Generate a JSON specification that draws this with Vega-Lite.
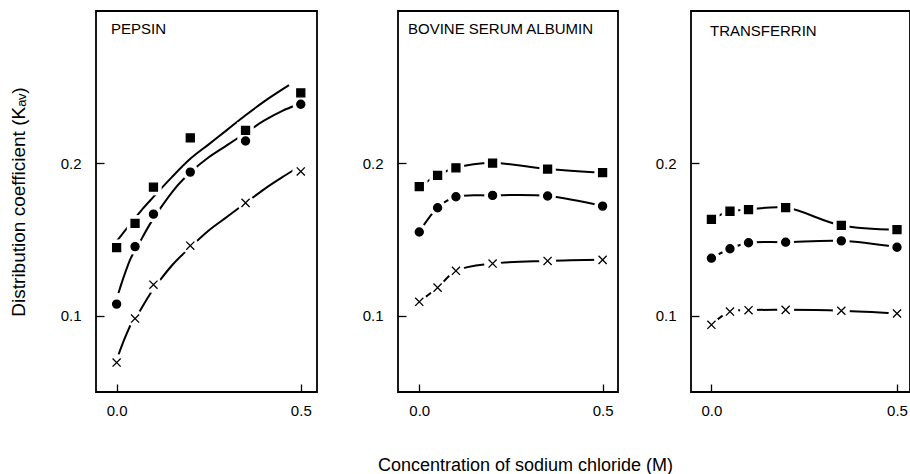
{
  "$schema": "https://vega.github.io/schema/vega-lite/v6.json",
  "background": "white",
  "padding": {"left": 8, "top": 10, "right": 0, "bottom": 0},
  "config": {
    "font": "Liberation Sans",
    "view": {"stroke": "black", "strokeWidth": 1.8},
    "axis": {
      "domain": false,
      "grid": false,
      "tickSize": -8,
      "tickColor": "black",
      "tickWidth": 1.3,
      "labelFont": "Liberation Sans",
      "labelFontSize": 15,
      "labelColor": "black",
      "titleFont": "Liberation Sans",
      "titleFontSize": 18,
      "titleFontWeight": "normal",
      "titleColor": "black"
    },
    "axisX": {"labelPadding": 19},
    "axisY": {"labelPadding": 23},
    "title": {
      "anchor": "start",
      "frame": "group",
      "font": "Liberation Sans",
      "fontSize": 15,
      "fontWeight": "normal",
      "color": "black",
      "baseline": "top",
      "offset": -26
    }
  },
  "datasets": {
    "points": [
      {"protein": "Pepsin", "symbol": "square", "nacl": 0, "kav": 0.1447},
      {"protein": "Pepsin", "symbol": "square", "nacl": 0.05, "kav": 0.1607},
      {"protein": "Pepsin", "symbol": "square", "nacl": 0.1, "kav": 0.1844},
      {"protein": "Pepsin", "symbol": "square", "nacl": 0.2, "kav": 0.2167},
      {"protein": "Pepsin", "symbol": "square", "nacl": 0.35, "kav": 0.2217},
      {"protein": "Pepsin", "symbol": "square", "nacl": 0.5, "kav": 0.2463},
      {"protein": "Pepsin", "symbol": "circle", "nacl": 0, "kav": 0.1077},
      {"protein": "Pepsin", "symbol": "circle", "nacl": 0.05, "kav": 0.1454},
      {"protein": "Pepsin", "symbol": "circle", "nacl": 0.1, "kav": 0.1667},
      {"protein": "Pepsin", "symbol": "circle", "nacl": 0.2, "kav": 0.1943},
      {"protein": "Pepsin", "symbol": "circle", "nacl": 0.35, "kav": 0.2147},
      {"protein": "Pepsin", "symbol": "circle", "nacl": 0.5, "kav": 0.2388},
      {"protein": "Pepsin", "symbol": "cross", "nacl": 0, "kav": 0.0693},
      {"protein": "Pepsin", "symbol": "cross", "nacl": 0.05, "kav": 0.0982},
      {"protein": "Pepsin", "symbol": "cross", "nacl": 0.1, "kav": 0.1204},
      {"protein": "Pepsin", "symbol": "cross", "nacl": 0.2, "kav": 0.146},
      {"protein": "Pepsin", "symbol": "cross", "nacl": 0.35, "kav": 0.1741},
      {"protein": "Pepsin", "symbol": "cross", "nacl": 0.5, "kav": 0.1947},
      {"protein": "BSA", "symbol": "square", "nacl": 0, "kav": 0.1847},
      {"protein": "BSA", "symbol": "square", "nacl": 0.05, "kav": 0.1921},
      {"protein": "BSA", "symbol": "square", "nacl": 0.1, "kav": 0.1971},
      {"protein": "BSA", "symbol": "square", "nacl": 0.2, "kav": 0.2002},
      {"protein": "BSA", "symbol": "square", "nacl": 0.35, "kav": 0.1963},
      {"protein": "BSA", "symbol": "square", "nacl": 0.5, "kav": 0.1939},
      {"protein": "BSA", "symbol": "circle", "nacl": 0, "kav": 0.155},
      {"protein": "BSA", "symbol": "circle", "nacl": 0.05, "kav": 0.1709},
      {"protein": "BSA", "symbol": "circle", "nacl": 0.1, "kav": 0.1781},
      {"protein": "BSA", "symbol": "circle", "nacl": 0.2, "kav": 0.179},
      {"protein": "BSA", "symbol": "circle", "nacl": 0.35, "kav": 0.1786},
      {"protein": "BSA", "symbol": "circle", "nacl": 0.5, "kav": 0.172},
      {"protein": "BSA", "symbol": "cross", "nacl": 0, "kav": 0.1092},
      {"protein": "BSA", "symbol": "cross", "nacl": 0.05, "kav": 0.1185},
      {"protein": "BSA", "symbol": "cross", "nacl": 0.1, "kav": 0.1295},
      {"protein": "BSA", "symbol": "cross", "nacl": 0.2, "kav": 0.1343},
      {"protein": "BSA", "symbol": "cross", "nacl": 0.35, "kav": 0.136},
      {"protein": "BSA", "symbol": "cross", "nacl": 0.5, "kav": 0.1367},
      {"protein": "Transferrin", "symbol": "square", "nacl": 0, "kav": 0.1633},
      {"protein": "Transferrin", "symbol": "square", "nacl": 0.05, "kav": 0.1686},
      {"protein": "Transferrin", "symbol": "square", "nacl": 0.1, "kav": 0.1697},
      {"protein": "Transferrin", "symbol": "square", "nacl": 0.2, "kav": 0.171},
      {"protein": "Transferrin", "symbol": "square", "nacl": 0.35, "kav": 0.1593},
      {"protein": "Transferrin", "symbol": "square", "nacl": 0.5, "kav": 0.1565},
      {"protein": "Transferrin", "symbol": "circle", "nacl": 0, "kav": 0.1378},
      {"protein": "Transferrin", "symbol": "circle", "nacl": 0.05, "kav": 0.144},
      {"protein": "Transferrin", "symbol": "circle", "nacl": 0.1, "kav": 0.1479},
      {"protein": "Transferrin", "symbol": "circle", "nacl": 0.2, "kav": 0.1483},
      {"protein": "Transferrin", "symbol": "circle", "nacl": 0.35, "kav": 0.1492},
      {"protein": "Transferrin", "symbol": "circle", "nacl": 0.5, "kav": 0.145},
      {"protein": "Transferrin", "symbol": "cross", "nacl": 0, "kav": 0.0941},
      {"protein": "Transferrin", "symbol": "cross", "nacl": 0.05, "kav": 0.1028},
      {"protein": "Transferrin", "symbol": "cross", "nacl": 0.1, "kav": 0.1037},
      {"protein": "Transferrin", "symbol": "cross", "nacl": 0.2, "kav": 0.1039},
      {"protein": "Transferrin", "symbol": "cross", "nacl": 0.35, "kav": 0.1033},
      {"protein": "Transferrin", "symbol": "cross", "nacl": 0.5, "kav": 0.1015}
    ],
    "pepsinFits": [
      {"symbol": "square", "nacl": 0.0, "kav": 0.149},
      {"symbol": "square", "nacl": 0.02, "kav": 0.155},
      {"symbol": "square", "nacl": 0.04, "kav": 0.161},
      {"symbol": "square", "nacl": 0.07, "kav": 0.17},
      {"symbol": "square", "nacl": 0.1, "kav": 0.178},
      {"symbol": "square", "nacl": 0.15, "kav": 0.191},
      {"symbol": "square", "nacl": 0.2, "kav": 0.203},
      {"symbol": "square", "nacl": 0.25, "kav": 0.2125},
      {"symbol": "square", "nacl": 0.3, "kav": 0.222},
      {"symbol": "square", "nacl": 0.35, "kav": 0.2316},
      {"symbol": "square", "nacl": 0.4, "kav": 0.2405},
      {"symbol": "square", "nacl": 0.468, "kav": 0.2513},
      {"symbol": "circle", "nacl": 0.005, "kav": 0.115},
      {"symbol": "circle", "nacl": 0.02, "kav": 0.126},
      {"symbol": "circle", "nacl": 0.037, "kav": 0.137},
      {"symbol": "circle", "nacl": 0.06, "kav": 0.147},
      {"symbol": "circle", "nacl": 0.09, "kav": 0.16},
      {"symbol": "circle", "nacl": 0.12, "kav": 0.171},
      {"symbol": "circle", "nacl": 0.16, "kav": 0.184},
      {"symbol": "circle", "nacl": 0.2, "kav": 0.194},
      {"symbol": "circle", "nacl": 0.25, "kav": 0.204},
      {"symbol": "circle", "nacl": 0.3, "kav": 0.212},
      {"symbol": "circle", "nacl": 0.35, "kav": 0.22},
      {"symbol": "circle", "nacl": 0.4, "kav": 0.228},
      {"symbol": "circle", "nacl": 0.45, "kav": 0.2345},
      {"symbol": "circle", "nacl": 0.49, "kav": 0.2385},
      {"symbol": "cross", "nacl": 0.003, "kav": 0.073},
      {"symbol": "cross", "nacl": 0.02, "kav": 0.084},
      {"symbol": "cross", "nacl": 0.04, "kav": 0.095},
      {"symbol": "cross", "nacl": 0.06, "kav": 0.102},
      {"symbol": "cross", "nacl": 0.09, "kav": 0.114},
      {"symbol": "cross", "nacl": 0.12, "kav": 0.124},
      {"symbol": "cross", "nacl": 0.15, "kav": 0.133},
      {"symbol": "cross", "nacl": 0.2, "kav": 0.145},
      {"symbol": "cross", "nacl": 0.25, "kav": 0.156},
      {"symbol": "cross", "nacl": 0.3, "kav": 0.165},
      {"symbol": "cross", "nacl": 0.35, "kav": 0.174},
      {"symbol": "cross", "nacl": 0.4, "kav": 0.183},
      {"symbol": "cross", "nacl": 0.45, "kav": 0.191},
      {"symbol": "cross", "nacl": 0.48, "kav": 0.1955}
    ]
  },
  "spacing": 43,
  "hconcat": [
    {
      "width": 221,
      "height": 381,
      "title": {"text": "PEPSIN", "dx": 15},
      "encoding": {
        "x": {"field": "nacl", "type": "quantitative",
              "scale": {"domain": [-0.056, 0.544], "nice": false, "zero": false},
              "axis": {"values": [0, 0.5], "format": ".1f", "title": null}},
        "y": {"field": "kav", "type": "quantitative",
              "scale": {"domain": [0.05, 0.3], "nice": false, "zero": false},
              "axis": {"values": [0.1, 0.2], "format": ".1f", "title": "Distribution coefficient (Kₐᵥ)", "titleFontSize": 19, "titlePadding": 32}}
      },
      "layer": [
        {
          "data": {"name": "pepsinFits"},
          "mark": {"type": "line", "stroke": "black", "strokeWidth": 2, "interpolate": "monotone"},
          "encoding": {"detail": {"field": "symbol"}}
        },
        {
          "data": {"name": "points"},
          "transform": [{"filter": "datum.protein === 'Pepsin'"}],
          "mark": {"type": "point", "fill": "white", "stroke": null, "opacity": 1},
          "encoding": {
            "shape": {"field": "symbol", "legend": null,
                      "scale": {"domain": ["square", "circle", "cross"], "range": ["square", "circle", "circle"]}},
            "size": {"field": "symbol", "legend": null,
                     "scale": {"domain": ["square", "circle", "cross"], "range": [270, 290, 150]}}
          }
        },
        {
          "data": {"name": "points"},
          "transform": [{"filter": "datum.protein === 'Pepsin'"}],
          "mark": {"type": "point", "fill": "black", "stroke": "black", "strokeWidth": 1.3, "opacity": 1},
          "encoding": {
            "shape": {"field": "symbol", "legend": null,
                      "scale": {"domain": ["square", "circle", "cross"], "range": ["square", "circle", "M-1,-1L1,1M-1,1L1,-1"]}},
            "size": {"field": "symbol", "legend": null,
                     "scale": {"domain": ["square", "circle", "cross"], "range": [64, 66, 32]}}
          }
        }
      ],
      "resolve": {"scale": {"shape": "independent", "size": "independent"}}
    },
    {
      "spacing": 73,
      "bounds": "flush",
      "hconcat": [
        {
          "width": 220,
          "height": 381,
          "title": {"text": "BOVINE SERUM ALBUMIN", "dx": 10},
          "encoding": {
            "x": {"field": "nacl", "type": "quantitative",
                  "scale": {"domain": [-0.058, 0.542], "nice": false, "zero": false},
                  "axis": {"values": [0, 0.5], "format": ".1f", "title": "Concentration of sodium chloride (M)", "titlePadding": 38, "titleX": 127}},
            "y": {"field": "kav", "type": "quantitative",
                  "scale": {"domain": [0.05, 0.3], "nice": false, "zero": false},
                  "axis": {"values": [0.1, 0.2], "format": ".1f", "title": null}}
          },
          "layer": [
            {
              "data": {"name": "points"},
              "transform": [{"filter": "datum.protein === 'BSA'"}],
              "mark": {"type": "line", "stroke": "black", "strokeWidth": 2, "interpolate": "catmull-rom"},
              "encoding": {"detail": {"field": "symbol"}}
            },
            {
              "data": {"name": "points"},
              "transform": [{"filter": "datum.protein === 'BSA'"}],
              "mark": {"type": "point", "fill": "white", "stroke": null, "opacity": 1},
              "encoding": {
                "shape": {"field": "symbol", "legend": null,
                          "scale": {"domain": ["square", "circle", "cross"], "range": ["square", "circle", "circle"]}},
                "size": {"field": "symbol", "legend": null,
                         "scale": {"domain": ["square", "circle", "cross"], "range": [270, 290, 150]}}
              }
            },
            {
              "data": {"name": "points"},
              "transform": [{"filter": "datum.protein === 'BSA'"}],
              "mark": {"type": "point", "fill": "black", "stroke": "black", "strokeWidth": 1.3, "opacity": 1},
              "encoding": {
                "shape": {"field": "symbol", "legend": null,
                          "scale": {"domain": ["square", "circle", "cross"], "range": ["square", "circle", "M-1,-1L1,1M-1,1L1,-1"]}},
                "size": {"field": "symbol", "legend": null,
                         "scale": {"domain": ["square", "circle", "cross"], "range": [64, 66, 32]}}
              }
            }
          ],
          "resolve": {"scale": {"shape": "independent", "size": "independent"}}
        },
        {
          "width": 219,
          "height": 381,
          "title": {"text": "TRANSFERRIN", "dx": 19, "offset": -28},
          "encoding": {
            "x": {"field": "nacl", "type": "quantitative",
                  "scale": {"domain": [-0.055, 0.535], "nice": false, "zero": false},
                  "axis": {"values": [0, 0.5], "format": ".1f", "title": null}},
            "y": {"field": "kav", "type": "quantitative",
                  "scale": {"domain": [0.05, 0.3], "nice": false, "zero": false},
                  "axis": {"values": [0.1, 0.2], "format": ".1f", "title": null}}
          },
          "layer": [
            {
              "data": {"name": "points"},
              "transform": [{"filter": "datum.protein === 'Transferrin'"}],
              "mark": {"type": "line", "stroke": "black", "strokeWidth": 2, "interpolate": "catmull-rom"},
              "encoding": {"detail": {"field": "symbol"}}
            },
            {
              "data": {"name": "points"},
              "transform": [{"filter": "datum.protein === 'Transferrin'"}],
              "mark": {"type": "point", "fill": "white", "stroke": null, "opacity": 1},
              "encoding": {
                "shape": {"field": "symbol", "legend": null,
                          "scale": {"domain": ["square", "circle", "cross"], "range": ["square", "circle", "circle"]}},
                "size": {"field": "symbol", "legend": null,
                         "scale": {"domain": ["square", "circle", "cross"], "range": [270, 290, 150]}}
              }
            },
            {
              "data": {"name": "points"},
              "transform": [{"filter": "datum.protein === 'Transferrin'"}],
              "mark": {"type": "point", "fill": "black", "stroke": "black", "strokeWidth": 1.3, "opacity": 1},
              "encoding": {
                "shape": {"field": "symbol", "legend": null,
                          "scale": {"domain": ["square", "circle", "cross"], "range": ["square", "circle", "M-1,-1L1,1M-1,1L1,-1"]}},
                "size": {"field": "symbol", "legend": null,
                         "scale": {"domain": ["square", "circle", "cross"], "range": [64, 66, 32]}}
              }
            }
          ],
          "resolve": {"scale": {"shape": "independent", "size": "independent"}}
        }
      ]
    }
  ]
}
